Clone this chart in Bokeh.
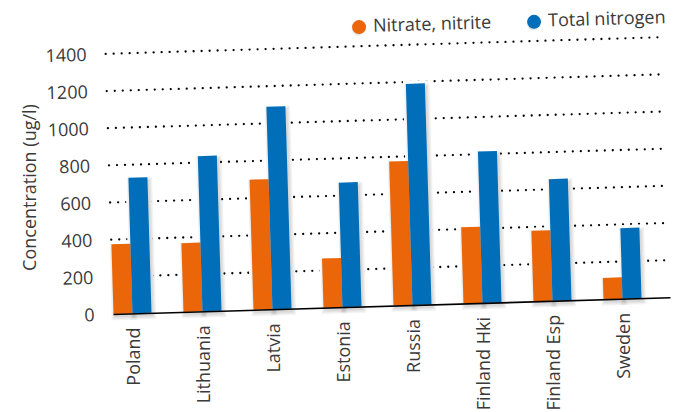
import math
from bokeh.plotting import figure
from bokeh.models import Range1d
from bokeh.core.properties import value
from bokeh.embed import file_html
from bokeh.resources import INLINE

# --- data -------------------------------------------------------------
categories = ["Poland", "Lithuania", "Latvia", "Estonia", "Russia",
              "Finland Hki", "Finland Esp", "Sweden"]
nitrate_nitrite = [375, 370, 700, 265, 775, 410, 380, 115]
total_nitrogen = [730, 835, 1090, 670, 1190, 815, 655, 380]
y_ticks = [0, 200, 400, 600, 800, 1000, 1200, 1400]
series_names = ["Nitrate, nitrite", "Total nitrogen"]
y_title = "Concentration (ug/l)"

# --- tilted floor projection --------------------------------------------
W, H = 677, 412
X0, Y0 = 113.0, 313.5      # floor origin in pixels
SLOPE = -0.030             # floor rises to the right
SKEW_X = -0.0056           # value axis leans slightly left
VSCALE = 0.1858            # pixels per ug/l
SLOT, BAR = 70.0, 19.0     # category slot and bar width along the floor
FLOOR_LEN = 557.0

ORANGE = "#EB6608"
BLUE = "#006EB8"
TEXT = "#3a3a3a"
FONT = value("Open Sans")


def proj(u, v):
    return X0 + u + SKEW_X * v, Y0 + SLOPE * u - VSCALE * v


def bar_poly(u0, u1, v, grow=0.0, dx=0.0, dy=0.0):
    pts = [proj(u0, 0), proj(u1, 0), proj(u1, v), proj(u0, v)]
    xs = [pts[0][0] - grow + dx, pts[1][0] + grow + dx, pts[2][0] + grow + dx, pts[3][0] - grow + dx]
    ys = [pts[0][1] + grow + dy, pts[1][1] + grow + dy, pts[2][1] - grow + dy, pts[3][1] - grow + dy]
    return xs, ys


p = figure(width=W, height=H, x_range=Range1d(0, W), y_range=Range1d(H, 0),
           output_backend="svg", toolbar_location=None, min_border=0)
p.axis.visible = False
p.grid.visible = False
p.outline_line_color = None
p.background_fill_color = "white"
p.border_fill_color = "white"

# dotted gridlines
gx, gy = [], []
for t in y_ticks[1:]:
    a = proj(0, t)
    b = proj(FLOOR_LEN + 2, t)
    gx.append([a[0], b[0]])
    gy.append([a[1], b[1]])
p.multi_line(gx, gy, line_color="black", line_width=2.3, line_dash="0 8", line_cap="round")

# bars with a soft drop shadow
bars = []
for i, (a, b) in enumerate(zip(nitrate_nitrite, total_nitrogen)):
    u = SLOT * i
    bars.append((u, u + BAR, a, ORANGE))
    bars.append((u + BAR, u + 2 * BAR, b, BLUE))

# white clearance around each bar so the dots stop short of it
hx, hy = [], []
for u0, u1, v, _ in bars:
    xs, ys = bar_poly(u0, u1, v, grow=3.0)
    hx.append(xs)
    hy.append(ys)
p.patches(hx, hy, fill_color="white", line_color=None)

sh_x, sh_y = [], []
for u0, u1, v, _ in bars:
    for g in (0.5, 1.8, 3.2):
        xs, ys = bar_poly(u0, u1, v, grow=g, dx=1.5, dy=3.0)
        sh_x.append(xs)
        sh_y.append(ys)
p.patches(sh_x, sh_y, fill_color="black", fill_alpha=0.05, line_color=None)

bx, by, bc = [], [], []
for u0, u1, v, c in bars:
    xs, ys = bar_poly(u0, u1, v)
    bx.append(xs)
    by.append(ys)
    bc.append(c)
p.patches(bx, by, fill_color=bc, line_color=None)

# floor line
f0, f1 = proj(0, 0), proj(FLOOR_LEN, 0)
p.line([f0[0], f1[0]], [f0[1] + 0.5, f1[1] + 0.5], line_color="black", line_width=1.6)

# value labels
lab = [proj(-19, t) for t in y_ticks]
p.text([q[0] for q in lab], [q[1] for q in lab], text=[str(t) for t in y_ticks],
       text_align="right", text_baseline="middle", text_font=FONT,
       text_font_size="18px", text_color=TEXT, angle=-math.atan(SLOPE))

# category labels, vertical, hanging below the floor
cl = [proj(SLOT * i + BAR, 0) for i in range(len(categories))]
p.text([q[0] for q in cl], [q[1] + 14 for q in cl], text=categories,
       angle=math.pi / 2, text_align="right", text_baseline="middle",
       text_font=FONT, text_font_size="18px", text_color=TEXT)

# axis title
p.text([28], [187], text=[y_title], angle=math.pi / 2, text_align="center",
       text_baseline="middle", text_font=FONT, text_font_size="18px", text_color=TEXT)

# legend placed on the tilted plane above the top gridline
LEG_V = 1503
leg_u = [254, 429]
leg_pts = [proj(u, LEG_V) for u in leg_u]
for r, a in ((8.5, 0.05), (10.0, 0.04), (11.5, 0.03)):
    p.circle([q[0] - 1 for q in leg_pts], [q[1] + 2.5 for q in leg_pts], radius=r / 2 + 1,
             fill_color="black", fill_alpha=a, line_color=None)
p.circle([q[0] for q in leg_pts], [q[1] for q in leg_pts], radius=7,
         fill_color=[ORANGE, BLUE], line_color=None)
lt = [proj(u + 14, LEG_V + 10) for u in leg_u]
p.text([q[0] for q in lt], [q[1] for q in lt], text=series_names,
       text_align="left", text_baseline="middle", text_font=FONT,
       text_font_size="18px", text_color=TEXT, angle=-math.atan(SLOPE))

open("out.html", "w").write(file_html(p, INLINE))
